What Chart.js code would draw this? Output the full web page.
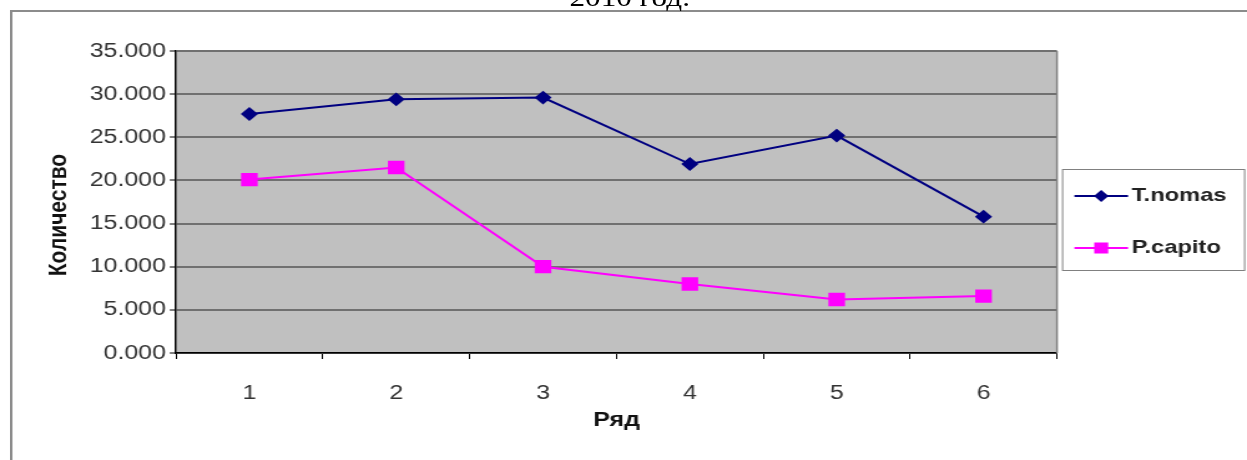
<!DOCTYPE html>
<html>
<head>
<meta charset="utf-8">
<script src="https://cdn.jsdelivr.net/npm/chart.js@4.4.0/dist/chart.umd.min.js"></script>
<style>
  html, body { margin: 0; padding: 0; background: #fff; overflow: hidden; width: 1247px; height: 460px; }
  /* the source picture is stretched sideways, so draw at 1000px and scale */
  #wrap { position: absolute; left: 0; top: 0; width: 1000px; height: 460px; transform: scaleX(1.247); transform-origin: 0 0; }
  #frame { position: absolute; left: 8px; top: 10px; width: 1100px; height: 500px; border: 2px solid #8c8c8c; }
  #title { position: absolute; left: 405px; width: 200px; top: -15px; text-align: center;
           font-family: "Liberation Serif", "Times New Roman", serif; font-size: 25px; line-height: 25px; color: #000; }
  canvas { position: absolute; left: 0; top: 0; }
</style>
</head>
<body>
<div id="wrap">
  <div id="frame"></div>
  <div id="title">2010 год.</div>
  <canvas id="myChart" width="1000" height="460"></canvas>
</div>
<script>
  /* DATA */
  const categories = ['1', '2', '3', '4', '5', '6'];
  const tNomas = [27.7, 29.4, 29.6, 21.9, 25.2, 15.8];
  const pCapito = [20.1, 21.5, 10.0, 8.0, 6.2, 6.6];
  const seriesNames = ['T.nomas', 'P.capito'];
  const yTitle = 'Количество';
  const xTitle = 'Ряд';
  const yMin = 0;
  const yMax = 35;
  const yStep = 5;

  const font = 'Liberation Sans, Arial, sans-serif';

  /* PLOT BACKGROUND AND RIGHT EDGE */
  const plotArea = {
    id: 'plotArea',
    beforeDraw(chart) {
      const { ctx, chartArea: a } = chart;
      ctx.save();
      ctx.fillStyle = '#c0c0c0';
      ctx.fillRect(a.left, a.top, a.right - a.left, a.bottom - a.top);
      ctx.restore();
    },
    beforeDatasetsDraw(chart) {
      const { ctx, chartArea: a } = chart;
      ctx.save();
      ctx.strokeStyle = '#808080';
      ctx.lineWidth = 1.5;
      ctx.beginPath();
      ctx.moveTo(a.right, a.top);
      ctx.lineTo(a.right, a.bottom);
      ctx.stroke();
      ctx.restore();
    }
  };

  /* Y TITLE - sits a bit lower than the axis middle in the original */
  const yAxisTitle = {
    id: 'yAxisTitle',
    afterDraw(chart) {
      const ctx = chart.ctx;
      ctx.save();
      ctx.translate(47.5, 215);
      ctx.rotate(-Math.PI / 2);
      ctx.fillStyle = '#111';
      ctx.font = 'bold 21px ' + font;
      ctx.textAlign = 'center';
      ctx.textBaseline = 'middle';
      ctx.fillText(yTitle, 0, 0);
      ctx.restore();
    }
  };

  /* LEGEND BOX ON THE RIGHT */
  const boxLegend = {
    id: 'boxLegend',
    afterDraw(chart) {
      const ctx = chart.ctx;
      const left = chart.chartArea.right + 4;
      ctx.save();
      ctx.fillStyle = '#fff';
      ctx.strokeStyle = '#808080';
      ctx.lineWidth = 1;
      ctx.fillRect(left, 169, 146, 101);
      ctx.strokeRect(left + 0.5, 169.5, 146, 101);

      const rows = [196, 248];
      chart.data.datasets.forEach((ds, i) => {
        const y = rows[i];
        ctx.strokeStyle = ds.borderColor;
        ctx.lineWidth = 2;
        ctx.beginPath();
        ctx.moveTo(left + 10, y);
        ctx.lineTo(left + 53, y);
        ctx.stroke();
        ctx.fillStyle = ds.pointBackgroundColor;
        ctx.strokeStyle = ds.borderColor;
        Chart.helpers.drawPoint(ctx, {
          pointStyle: ds.pointStyle,
          radius: ds.pointStyle === 'rect' ? 6.5 : 4.5,
          rotation: 0,
          borderWidth: 1
        }, left + 31.5, y);
        ctx.fillStyle = '#222';
        ctx.font = 'bold 19px ' + font;
        ctx.textAlign = 'left';
        ctx.textBaseline = 'middle';
        ctx.fillText(ds.label, left + 56, y);
      });
      ctx.restore();
    }
  };

  function initChart(canvas) {
    return new Chart(canvas, {
      type: 'line',
      data: {
        labels: categories,
        datasets: [{
          label: seriesNames[0],
          data: tNomas,
          borderColor: '#000080',
          backgroundColor: '#000080',
          pointBackgroundColor: '#000080',
          borderWidth: 2,
          pointStyle: 'rectRot',
          pointRadius: 5.5,
          tension: 0
        }, {
          label: seriesNames[1],
          data: pCapito,
          borderColor: '#ff00ff',
          backgroundColor: '#ff00ff',
          pointBackgroundColor: '#ff00ff',
          borderWidth: 2,
          pointStyle: 'rect',
          pointRadius: 8,
          tension: 0
        }]
      },
      options: {
        responsive: false,
        animation: false,
        devicePixelRatio: 1,
        layout: { padding: { top: 51, right: 152.4, left: 0, bottom: 0 } },
        plugins: {
          legend: { display: false },
          tooltip: { enabled: false }
        },
        scales: {
          x: {
            offset: true,
            afterFit: (scale) => { scale.height = 107; },
            grid: { offset: true, drawOnChartArea: false, color: '#000', tickLength: 6, lineWidth: 1 },
            border: { color: '#000', width: 1.5 },
            ticks: { color: '#333', padding: 22, font: { family: font, size: 20 } },
            title: {
              display: true,
              text: xTitle,
              color: '#111',
              font: { family: font, size: 20, weight: 'bold' },
              padding: { top: 0, bottom: 28 }
            }
          },
          y: {
            min: yMin,
            max: yMax,
            afterFit: (scale) => { scale.width = 141.1; },
            grid: { color: '#707070', lineWidth: 2, tickColor: '#000', tickWidth: 1, tickLength: 5 },
            border: { color: '#000', width: 1.5 },
            ticks: {
              stepSize: yStep,
              color: '#333',
              padding: 3,
              font: { family: font, size: 20 },
              callback: (v) => Number(v).toFixed(3)
            }
          }
        }
      },
      plugins: [plotArea, yAxisTitle, boxLegend]
    });
  }

  document.addEventListener('DOMContentLoaded', () => initChart(document.querySelector('#myChart')));
</script>
</body>
</html>
